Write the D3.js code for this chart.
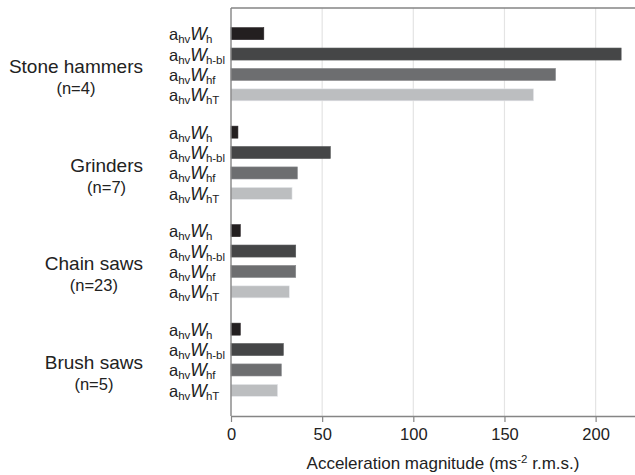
<!DOCTYPE html>
<html>
<head>
<meta charset="utf-8">
<script src="https://cdn.jsdelivr.net/npm/d3@7"></script>
<style>
  body { margin: 0; background: #fff; }
  svg { display: block; font-family: "Liberation Sans", Arial, sans-serif; }
</style>
</head>
<body>
<svg id="chart" width="635" height="475"></svg>
<script>
// ---- data ----
const groups = ["Stone hammers", "Grinders", "Chain saws", "Brush saws"];
const groupN = ["(n=4)", "(n=7)", "(n=23)", "(n=5)"];
const seriesKeys = ["h", "h-bl", "hf", "hT"];
const seriesColors = ["#231f20", "#454647", "#6d6e70", "#bcbec0"];
const valuesWh   = [18, 3.8, 5.1, 5.1];
const valuesWhbl = [214, 54.5, 35.5, 28.7];
const valuesWhf  = [178, 36.4, 35.5, 27.6];
const valuesWhT  = [166, 33.5, 32, 25.6];
const xTicks = [0, 50, 100, 150, 200];
const xTitle = "Acceleration magnitude (ms";

const seriesValues = [valuesWh, valuesWhbl, valuesWhf, valuesWhT];

// ---- layout ----
const svg = d3.select("#chart");
const mLeft = 231, mRight = 635, mTop = 8, mBottom = 416;

const x = d3.scaleLinear().domain([0, 221.6]).range([mLeft, mRight]);
const yGroup = d3.scaleBand().domain(groups).range([mTop, mBottom]).paddingInner(0).paddingOuter(0.071);
const ySeries = d3.scaleBand().domain(seriesKeys).range([0, yGroup.bandwidth()])
  .paddingInner(0.41).paddingOuter(0.619);

// grid lines
svg.append("g").selectAll("line").data(xTicks.filter(d => d > 0)).join("line")
  .attr("x1", d => x(d)).attr("x2", d => x(d))
  .attr("y1", mTop).attr("y2", mBottom)
  .attr("stroke", "#e4e4e4").attr("stroke-width", 1.2);

// bars
const rows = [];
groups.forEach((g, gi) => {
  seriesKeys.forEach((s, si) => {
    rows.push({ g, s, si, v: seriesValues[si][gi] });
  });
});

svg.append("g").selectAll("rect").data(rows).join("rect")
  .attr("x", x(0))
  .attr("y", d => yGroup(d.g) + ySeries(d.s))
  .attr("width", d => x(d.v) - x(0))
  .attr("height", ySeries.bandwidth())
  .attr("fill", d => seriesColors[d.si])
  .attr("stroke", d => d3.color(seriesColors[d.si]).brighter(0.6))
  .attr("stroke-width", 0.6);

// frame: top line, left axis line
svg.append("line").attr("x1", mLeft).attr("x2", mRight).attr("y1", mTop).attr("y2", mTop)
  .attr("stroke", "#858585").attr("stroke-width", 1.4);
svg.append("line").attr("x1", mLeft).attr("x2", mLeft).attr("y1", mTop).attr("y2", mBottom)
  .attr("stroke", "#858585").attr("stroke-width", 1.4);

// x axis
const xAxis = d3.axisBottom(x).tickValues(xTicks).tickSize(6).tickPadding(6).tickSizeOuter(0);
const gx = svg.append("g").attr("transform", `translate(0,${mBottom})`).call(xAxis);
gx.select(".domain").attr("stroke", "#858585").attr("stroke-width", 1.4);
gx.selectAll(".tick line").attr("stroke", "#858585").attr("stroke-width", 1.2);
gx.selectAll(".tick text").attr("fill", "#222").attr("font-size", 16.5)
  .attr("font-family", "'Liberation Sans', Arial, sans-serif");

// axis title
const title = svg.append("text").attr("x", 443).attr("y", 469).attr("text-anchor", "middle")
  .attr("font-size", 17).attr("fill", "#222");
title.append("tspan").text(xTitle);
title.append("tspan").attr("font-size", 11.5).attr("dy", -6).text("-2");
title.append("tspan").attr("dy", 6).text(" r.m.s.)");

// series labels
rows.forEach(d => {
  const cy = yGroup(d.g) + ySeries(d.s) + ySeries.bandwidth() / 2;
  const t = svg.append("text").attr("x", 169).attr("y", cy + 6.5).attr("fill", "#222");
  t.append("tspan").attr("font-size", 16.5).text("a");
  t.append("tspan").attr("font-size", 11.5).attr("dy", 3).text("hv");
  t.append("tspan").attr("font-size", 17.5).attr("font-style", "italic").attr("dy", -3)
    .attr("letter-spacing", -1.5).text("W");
  t.append("tspan").attr("font-size", 11.5).attr("dy", 3).attr("dx", 0.5).text(d.s);
});

// group labels
groups.forEach((g, gi) => {
  const cy = yGroup(g) + yGroup.bandwidth() / 2;
  const name = svg.append("text").attr("x", 143).attr("y", cy + 9).attr("text-anchor", "end")
    .attr("font-size", 19).attr("fill", "#222").text(g);
  const w = name.node().getComputedTextLength();
  svg.append("text").attr("x", 143 - w / 2).attr("y", cy + 30).attr("text-anchor", "middle")
    .attr("font-size", 16.5).attr("fill", "#222").text(groupN[gi]);
});
</script>
</body>
</html>
